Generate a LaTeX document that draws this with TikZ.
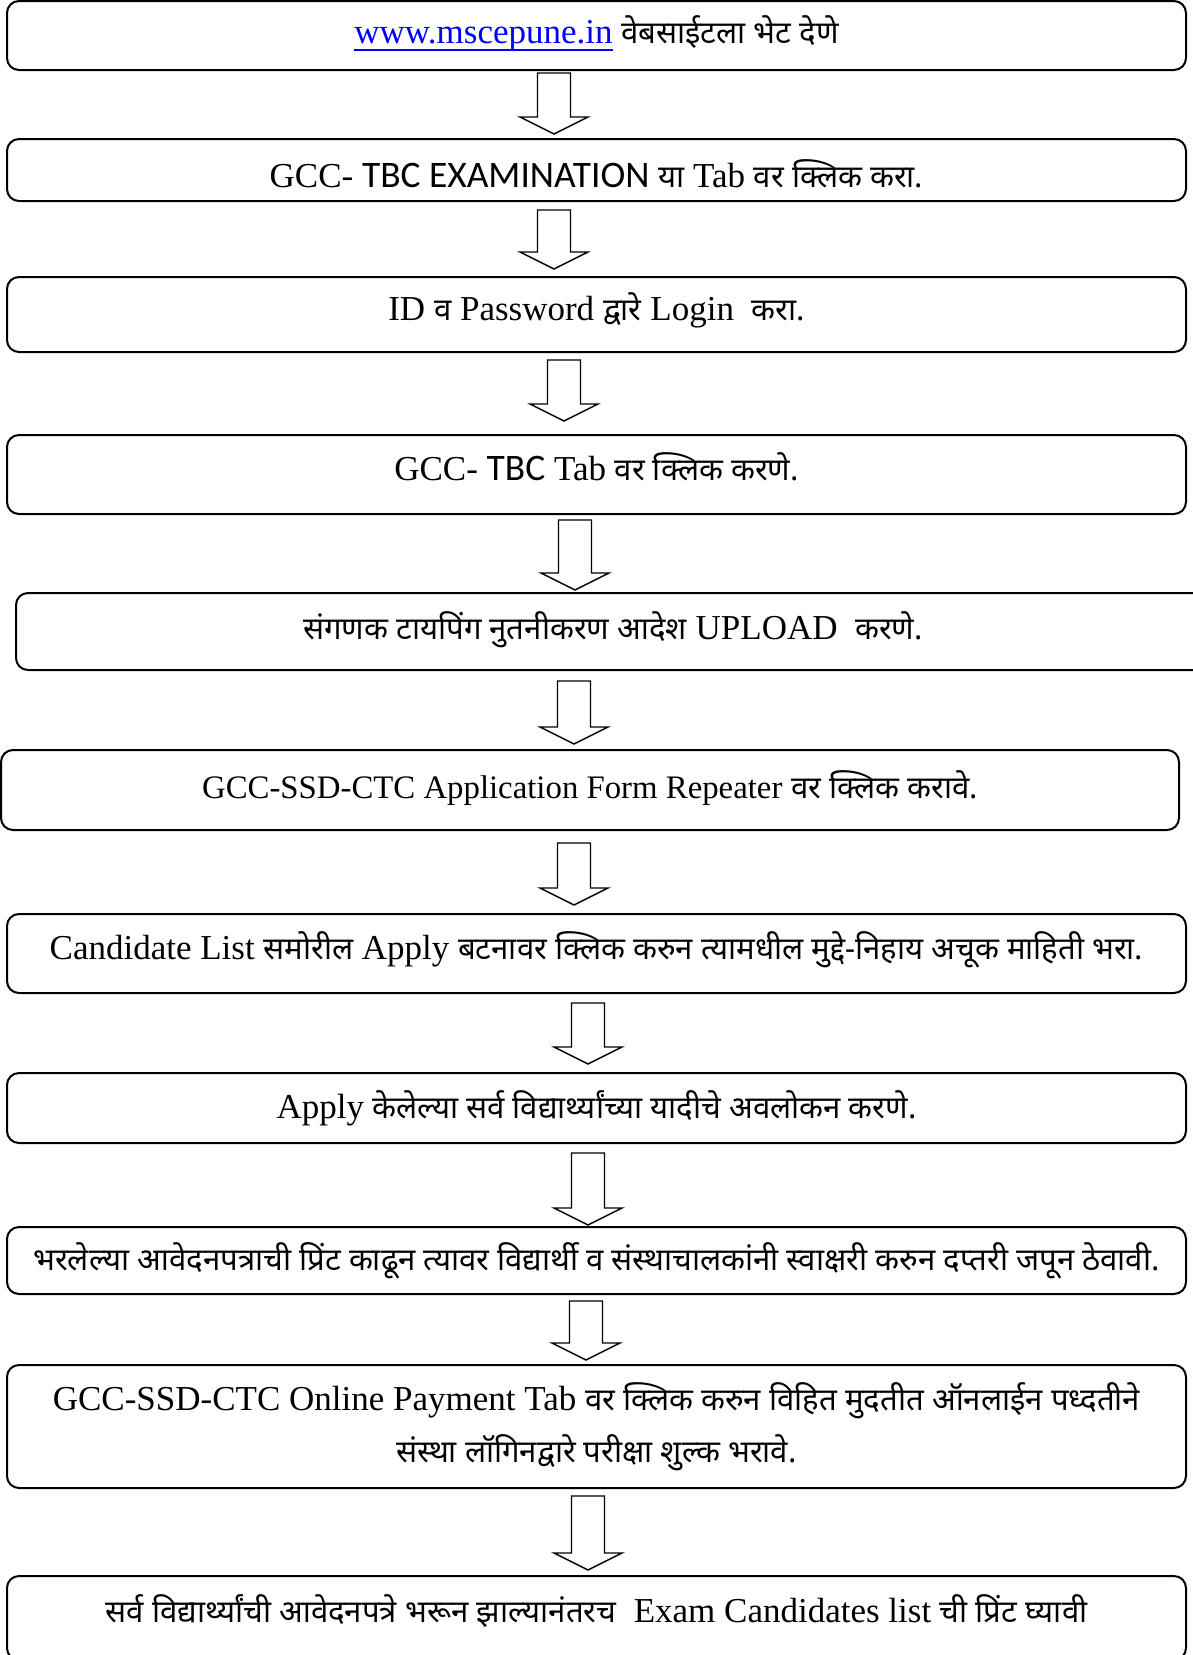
\documentclass[tikz,border=0pt]{standalone}
\usepackage{fontspec}
\setmainfont{Liberation Serif}
\newfontfamily\devfont[Script=Devanagari,Scale=0.89]{Noto Sans}
\newfontfamily\sansfam[Scale=1.07]{Carlito}
\newcommand{\mr}[1]{{\devfont #1}}
\newcommand{\nudge}[2]{\raisebox{#1}[\height][\depth]{#2}}
\newcommand{\weblink}[1]{{\color{blue}\setbox0\hbox{#1}\rlap{\raisebox{-4pt}{\rule{\wd0}{1pt}}}\box0}}
\usetikzlibrary{calc}
\begin{document}
\begin{tikzpicture}[x=0.5pt, y=-0.5pt,
    box/.style={draw, line width=1pt, rounded corners=6pt, inner sep=0pt, outer sep=0pt,
                minimum width=589.5pt, align=center,
                font=\fontsize{17.5}{26}\selectfont},
    fatarrow/.style={draw, line width=0.7pt, fill=white, line join=miter}]
\useasboundingbox (0,0) rectangle (1193,1655);

\node (b1) at (596.5,35.5) [box, minimum height=34.5pt] {\nudge{1pt}{\weblink{www.mscepune.in} \mr{वेबसाईटला भेट देणे}}};
\node (b2) at (596.5,170) [box, minimum height=31pt] {\nudge{-2pt}{GCC- {\sansfam TBC EXAMINATION} \mr{या} Tab \mr{वर क्लिक करा.}}};
\node (b3) at (596.5,314.5) [box, minimum height=37.5pt] {\nudge{2pt}{ID \mr{व} Password \mr{द्वारे} Login\ \ \mr{करा.}}};
\node (b4) at (596.5,474.5) [box, minimum height=39.5pt] {\nudge{4pt}{GCC- {\sansfam TBC} Tab \mr{वर क्लिक करणे.}}};
\node (b5) at (613,631.5) [box, minimum width=597pt, minimum height=38.5pt] {\nudge{1pt}{\mr{संगणक टायपिंग नुतनीकरण आदेश} UPLOAD\ \ \mr{करणे.}}};
\node (b6) at (590,790) [box, minimum width=589pt, minimum height=40pt] {\nudge{1pt}{{\fontsize{16.4}{26}\selectfont GCC-SSD-CTC Application Form Repeater} \mr{वर क्लिक करावे.}}};
\node (b7) at (596.5,953.5) [box, minimum height=39.5pt] {\nudge{2pt}{Candidate List \mr{समोरील} Apply \mr{बटनावर क्लिक करुन त्यामधील मुद्दे-निहाय अचूक माहिती भरा.}}};
\node (b8) at (596.5,1108) [box, minimum height=35pt] {Apply \mr{केलेल्या सर्व विद्यार्थ्यांच्या यादीचे अवलोकन करणे.}};
\node (b9) at (596.5,1260.5) [box, minimum height=33.5pt] {\mr{भरलेल्या आवेदनपत्राची प्रिंट काढून त्यावर विद्यार्थी व संस्थाचालकांनी स्वाक्षरी करुन दप्तरी जपून ठेवावी.}};
\node (b10) at (596.5,1426.5) [box, minimum height=61.5pt] {GCC-SSD-CTC Online Payment Tab \mr{वर क्लिक करुन विहित मुदतीत ऑनलाईन पध्दतीने}\\ \mr{संस्था लॉगिनद्वारे परीक्षा शुल्क भरावे.}};
\node (b11) at (596.5,1618) [box, minimum height=42pt] {\nudge{3.5pt}{\mr{सर्व विद्यार्थ्यांची आवेदनपत्रे भरून झाल्यानंतरच}\ \ Exam Candidates list \mr{ची प्रिंट घ्यावी}}};

% hollow arrows between the steps
\foreach \n/\x/\ya/\yb in {1/554/73/134, 2/554/210/269, 3/564/360/421, 4/575/520/590,
    5/574/681/744, 6/574/843/905, 7/588/1003/1064, 8/588/1153/1225, 9/586/1301/1360, 10/588/1496/1570}{
  \coordinate (tail\n) at (\x,\ya);
  \coordinate (tip\n) at (\x,\yb);
  \draw[fatarrow] ($(tail\n)+(-16.5,0)$) -- ($(tip\n)+(-16.5,-17)$) -- ($(tip\n)+(-34,-17)$) -- (tip\n)
      -- ($(tip\n)+(34,-17)$) -- ($(tip\n)+(16.5,-17)$) -- ($(tail\n)+(16.5,0)$) -- cycle;
}
\end{tikzpicture}
\end{document}
